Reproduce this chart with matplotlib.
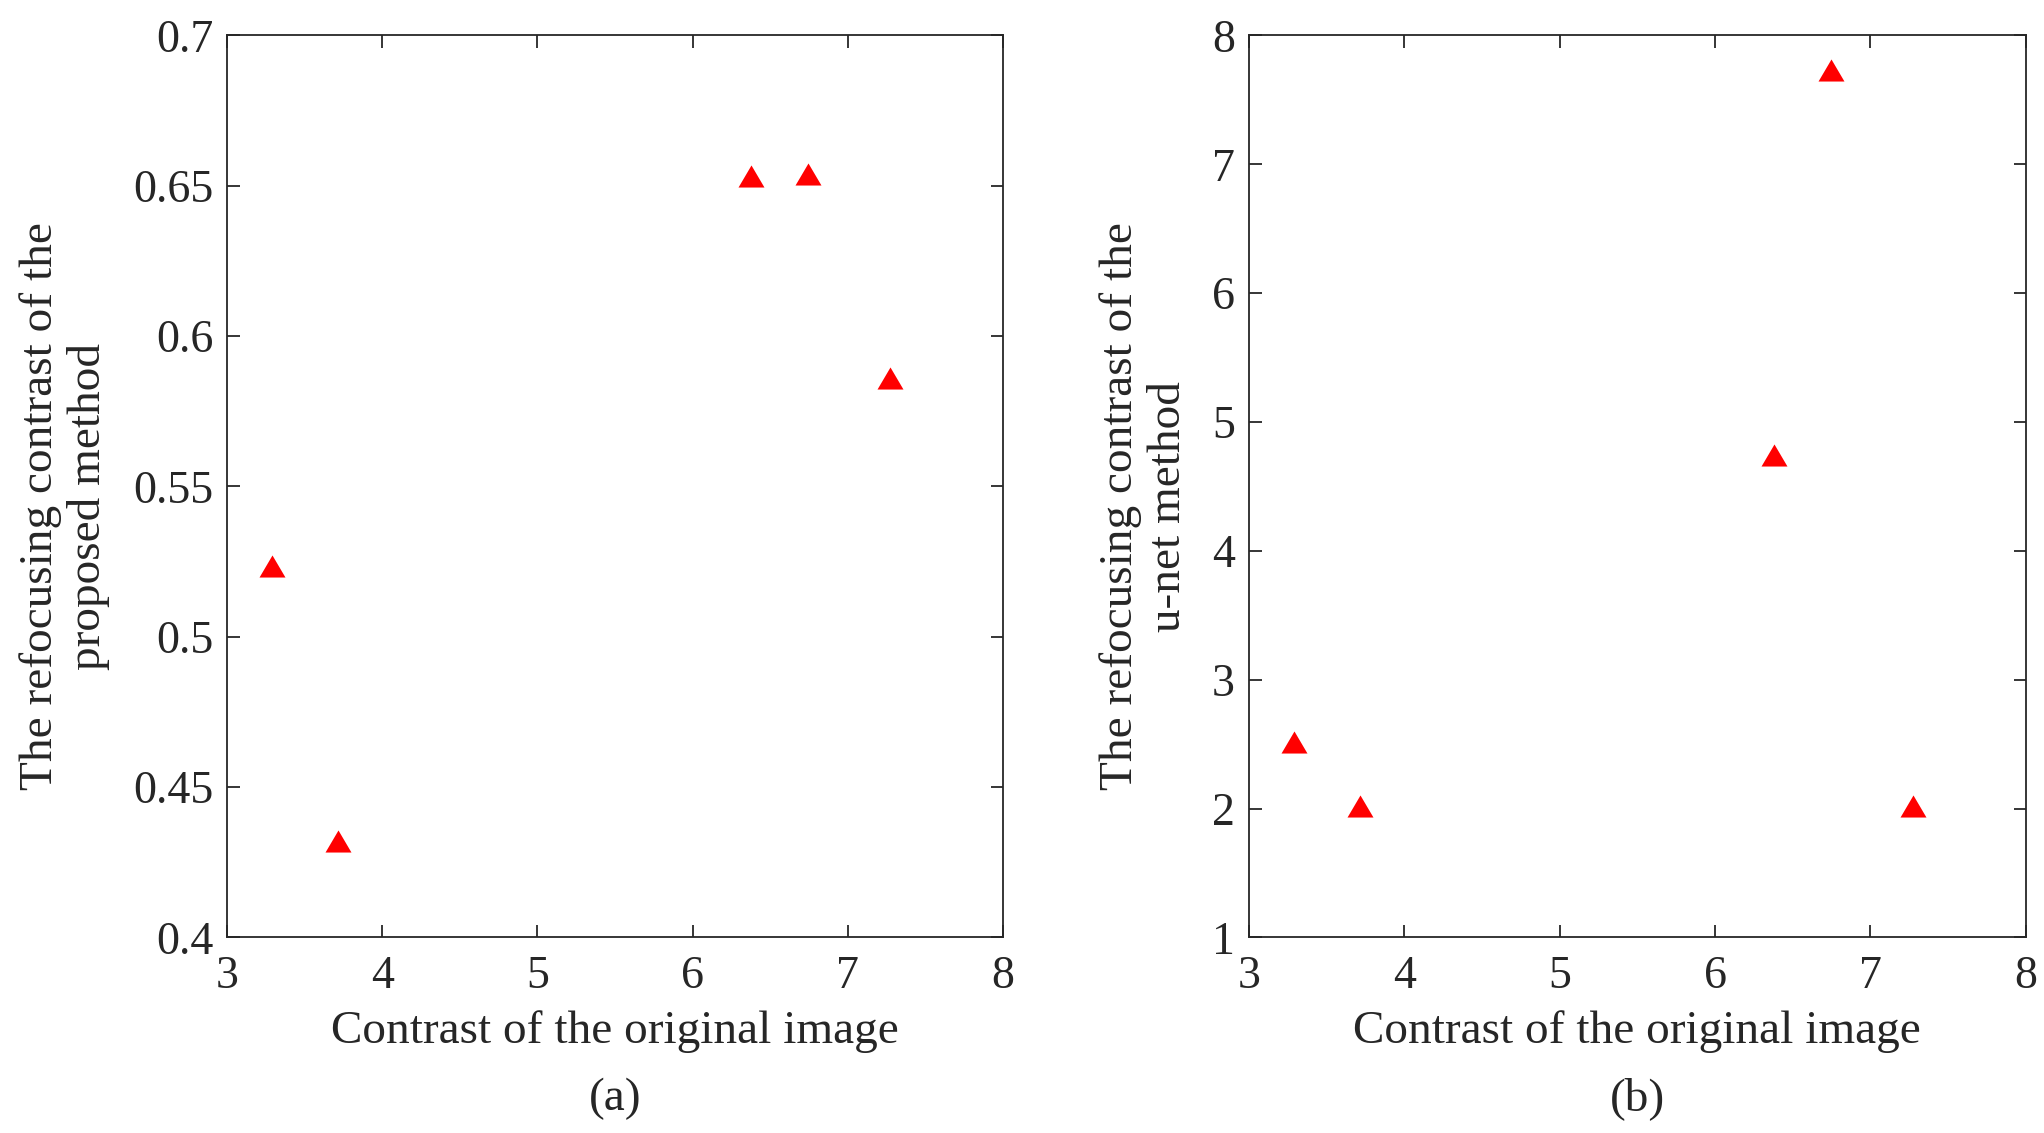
import numpy as np
import matplotlib
matplotlib.use('Agg')
import matplotlib.pyplot as plt
from matplotlib.ticker import FormatStrFormatter

plt.rcParams['font.family'] = ['Liberation Serif', 'DejaVu Serif']

# dados
contraste_original = [3.29, 3.712, 6.377, 6.744, 7.272]
contraste_proposto = [0.5235, 0.4322, 0.6533, 0.6538, 0.5862]
contraste_unet = [2.513, 2.02, 4.747, 7.734, 2.022]

xticks = [3, 4, 5, 6, 7, 8]
yticks_a = [0.4, 0.45, 0.5, 0.55, 0.6, 0.65, 0.7]
yticks_b = [1, 2, 3, 4, 5, 6, 7, 8]

# triangulo no estilo do MATLAB (mais largo que alto)
tri = [(-1, -0.85), (1, -0.85), (0, 0.85), (-1, -0.85)]

fig = plt.figure(figsize=(20.44, 11.33), dpi=100)
ax1 = fig.add_axes([0.1111, 0.1726, 0.3796, 0.7961])
ax2 = fig.add_axes([0.6110, 0.1726, 0.3801, 0.7961])

cor_eixo = '#262626'
fs = 34

def formata(ax, yticks, ylabel, lx, sub):
    ax.set_xlim(3, 8)
    ax.set_xticks(xticks)
    ax.set_ylim(yticks[0], yticks[-1])
    ax.set_yticks(yticks)
    ax.yaxis.set_major_formatter(FormatStrFormatter('%g'))
    ax.tick_params(direction='in', length=9, width=1.3, colors=cor_eixo,
                   labelsize=33, top=True, right=True, pad=10)
    ax.tick_params(axis='x', pad=13)
    for s in ax.spines.values():
        s.set_linewidth(1.3)
        s.set_color(cor_eixo)
    ax.set_xlabel('Contrast of the original image', fontsize=fs, color=cor_eixo)
    ax.xaxis.set_label_coords(0.5, -0.104)
    ax.xaxis.label.set_va('center')
    ax.set_ylabel(ylabel, fontsize=fs, color=cor_eixo, linespacing=1.15)
    ax.yaxis.set_label_coords(lx, 0.478)
    ax.yaxis.label.set_va('center')
    ax.text(0.5, -0.179, sub, transform=ax.transAxes, ha='center', va='center',
            fontsize=fs, color=cor_eixo)

ax1.plot(contraste_original, contraste_proposto, linestyle='none', marker=tri,
         markersize=18.7, color='red', markeredgewidth=0)
formata(ax1, yticks_a, 'The refocusing contrast of the\nproposed method', -0.21, '(a)')

ax2.plot(contraste_original, contraste_unet, linestyle='none', marker=tri,
         markersize=18.7, color='red', markeredgewidth=0)
formata(ax2, yticks_b, 'The refocusing contrast of the\nu-net method', -0.134, '(b)')

plt.savefig('out.png', dpi=100)
